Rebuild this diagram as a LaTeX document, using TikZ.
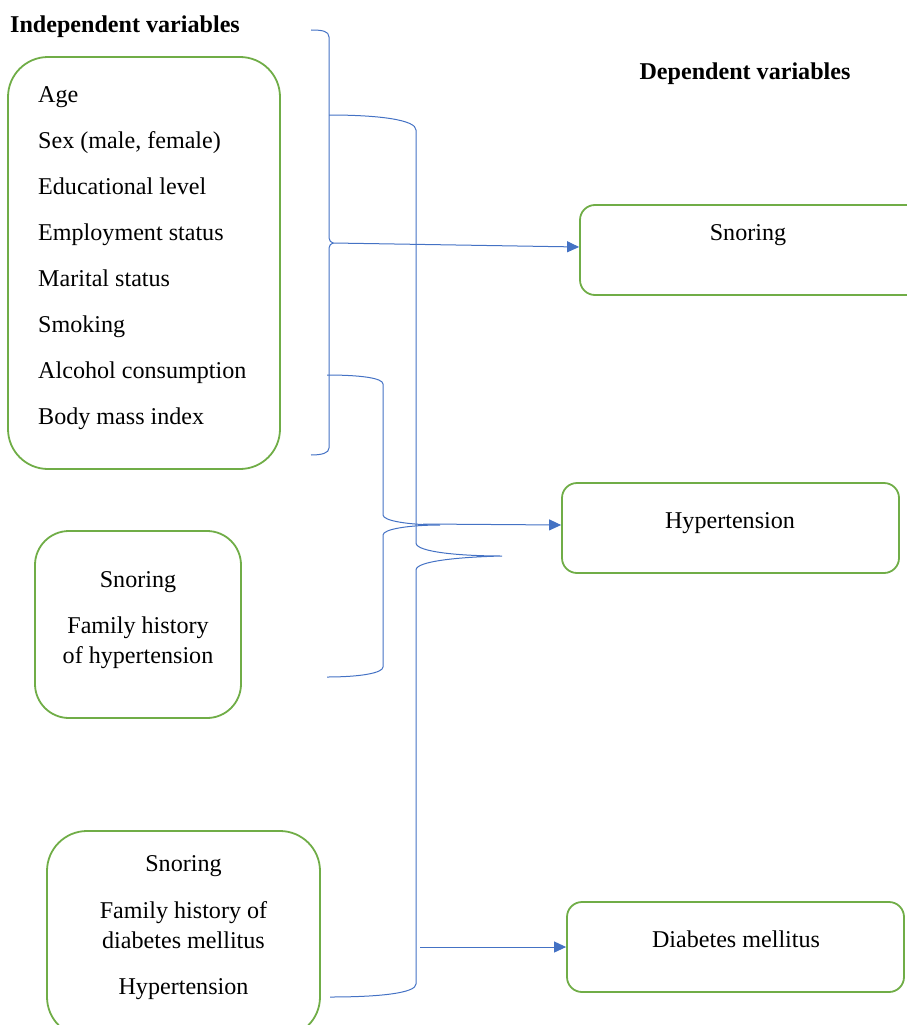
\documentclass[tikz,border=0pt]{standalone}
\usepackage{fontspec}
\setmainfont{Liberation Serif}
\usetikzlibrary{arrows.meta}
\definecolor{boxgreen}{HTML}{70AD47}
\definecolor{linkblue}{HTML}{4472C4}
\tikzset{
  indbox/.style={draw=boxgreen, line width=1.8pt, rounded corners=40pt},
  depbox/.style={draw=boxgreen, line width=1.8pt, rounded corners=15pt},
  brace/.style={draw=linkblue, line width=1pt},
  link/.style={draw=linkblue, line width=1pt, -{Triangle[length=12pt,width=11pt]}},
  txt/.style={inner sep=0pt, anchor=base west, font=\fontsize{24.1}{29}\selectfont},
  ctxt/.style={txt, anchor=base},
  headtxt/.style={txt, font=\fontsize{24.1}{29}\selectfont\bfseries},
}
\begin{document}
\begin{tikzpicture}[x=1pt,y=-1pt]
  \useasboundingbox (0,0) rectangle (907,1025);
  \clip (0,0) rectangle (907,1025);
  % headings
  \node[headtxt] (indhead) at (10,33) {Independent variables};
  \node[headtxt, anchor=base] (dephead) at (745,79) {Dependent variables};
  % independent variables
  \node[indbox, minimum width=272pt, minimum height=412pt] (basebox) at (144,263) {};
  \foreach \var [count=\i from 0] in {Age, {Sex (male, female)}, Educational level,
      Employment status, Marital status, Smoking, Alcohol consumption, Body mass index}
    \node[txt] (item\i) at (38,{102+46*\i}) {\var};
  \node[indbox, rounded corners=34pt, minimum width=206pt, minimum height=187pt] (hypinbox) at (138,624.5) {};
  \node[ctxt] (hypsnore) at (138,587) {Snoring};
  \node[ctxt] (hypfam1) at (138,633) {Family history};
  \node[ctxt] (hypfam2) at (138,663) {of hypertension};
  \node[indbox, minimum width=273pt, minimum height=206pt] (dminbox) at (183.5,934) {};
  \node[ctxt] (dmsnore) at (183.5,871) {Snoring};
  \node[ctxt] (dmfam1) at (183.5,918) {Family history of};
  \node[ctxt] (dmfam2) at (183.5,948) {diabetes mellitus};
  \node[ctxt] (dmhyp) at (183.5,994) {Hypertension};
  % dependent variables
  \node[depbox, minimum width=345pt, minimum height=90pt] (snoredep) at (752.5,250) {};
  \node[ctxt] (snoretxt) at (748,240) {Snoring};
  \node[depbox, minimum width=337pt, minimum height=90pt] (hypdep) at (730.5,528) {};
  \node[ctxt] (hyptxt) at (730,528) {Hypertension};
  \node[depbox, minimum width=337pt, minimum height=90pt] (dmdep) at (735.5,947) {};
  \node[ctxt] (dmtxt) at (736,947) {Diabetes mellitus};
  % braces
  \draw[brace] (311,30) .. controls (322,30) and (329,31) .. (329,37) -- (329,238)
    .. controls (329,241) and (331,242) .. (333,243) .. controls (331,244) and (329,245) .. (329,248)
    -- (329,448) .. controls (329,453) and (322,455) .. (311,455);
  \draw[brace] (329,115) .. controls (380,115) and (416,120) .. (416,130) -- (416,543)
    .. controls (416,552) and (460,556) .. (502,556) .. controls (460,557) and (416,561) .. (416,570)
    -- (416,984) .. controls (416,993) and (380,997) .. (330,997);
  \draw[brace] (327,375) .. controls (360,375) and (383,378) .. (383,384) -- (383,515)
    .. controls (383,521) and (410,525) .. (440,525) .. controls (410,525) and (383,529) .. (383,535)
    -- (383,667) .. controls (383,673) and (360,677) .. (327,677);
  % arrows
  \coordinate (basetip) at (333,243);
  \coordinate (hyptip) at (423,524);
  \coordinate (dmtip) at (420,947);
  \draw[link] (basetip) -- ([yshift=3pt]snoredep.west);
  \draw[link] (hyptip) -- ([yshift=3pt]hypdep.west);
  \draw[link] (dmtip) -- (dmdep.west);
\end{tikzpicture}
\end{document}
